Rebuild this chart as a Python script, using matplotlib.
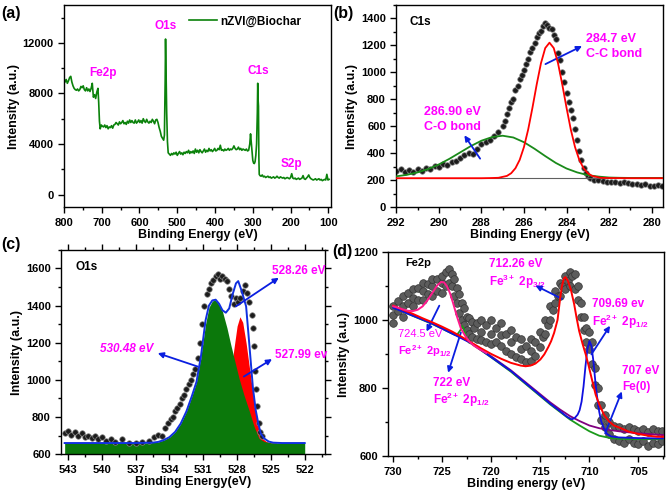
import matplotlib
matplotlib.use('Agg')
import matplotlib.pyplot as plt
from matplotlib.ticker import MultipleLocator

plt.rcParams['font.family'] = 'Liberation Sans'
plt.rcParams['font.weight'] = 'bold'
plt.rcParams['axes.labelweight'] = 'bold'
plt.rcParams['mathtext.fontset'] = 'custom'
plt.rcParams['mathtext.rm'] = 'Liberation Sans:bold'
plt.rcParams['mathtext.bf'] = 'Liberation Sans:bold'
plt.rcParams['mathtext.it'] = 'Liberation Sans:bold:italic'

# ---------------- (a) survey ----------------
survey_E = [800, 797, 794, 791, 788, 785, 782, 779, 776, 773, 770, 767, 764, 761, 758, 755, 752, 749, 746, 743,
            740, 737, 734, 731, 728, 725, 722, 719, 716, 713, 710, 708, 706, 704, 701, 698, 695, 692, 689, 686,
            683, 680, 677, 674, 671, 668, 665, 662, 659, 656, 653, 650, 647, 644, 641, 638, 635, 632, 629, 626,
            623, 620, 617, 614, 611, 608, 605, 602, 599, 596, 593, 590, 587, 584, 581, 578, 575, 572, 569, 566,
            563, 560, 557, 554, 551, 548, 545, 542, 539, 536, 534, 532, 531, 530, 528, 526, 524, 521, 518, 515,
            512, 509, 506, 503, 500, 497, 494, 491, 488, 485, 482, 479, 476, 473, 470, 467, 464, 461, 458, 455,
            452, 449, 446, 443, 440, 437, 434, 431, 428, 425, 422, 419, 416, 413, 410, 407, 404, 401, 398, 395,
            392, 389, 386, 383, 380, 377, 374, 371, 368, 365, 362, 359, 356, 353, 350, 347, 344, 341, 338, 335,
            332, 329, 326, 323, 320, 317, 314, 311, 308, 306, 304, 302, 300, 298, 296, 294, 292, 290, 288, 287,
            286, 285, 284, 283, 281, 278, 275, 272, 269, 266, 263, 260, 257, 254, 251, 248, 245, 242, 239, 236,
            233, 230, 227, 224, 221, 218, 215, 212, 209, 206, 203, 200, 197, 194, 191, 188, 185, 182, 179, 176,
            173, 170, 167, 164, 161, 158, 155, 152, 149, 146, 143, 140, 137, 134, 131, 128, 125, 122, 119, 116,
            113, 110, 107, 104, 101, 98]
survey_I = [9200, 8900, 9100, 8800, 9000, 9250, 9350, 8900, 8600, 8400, 8300, 8250, 8350, 8200, 8300, 8550, 8450, 8600, 8300, 8200,
            8450, 8200, 8350, 8150, 8400, 8800, 7700, 7900, 7600, 8100, 8400, 7300, 5800, 5200, 5500, 5400, 5350, 5500, 5300, 5450,
            5200, 5350, 5300, 5450, 5250, 5500, 5550, 5700, 5600, 5500, 5750, 5600, 5700, 5850, 5600, 5700, 5550, 5800, 5650, 5900,
            5700, 5850, 5700, 5650, 5900, 5650, 5750, 5900, 5700, 5850, 5650, 6000, 5800, 5700, 5950, 5750, 5650, 5800, 5700, 5950,
            5800, 5600, 5900, 5950, 5700, 5300, 5000, 4600, 4450, 4300, 4700, 9000, 12300, 10500, 6500, 4200, 3300, 3200, 3100, 3250,
            3150, 3300, 3200, 3350, 3100, 3250, 3400, 3200, 3300, 3150, 3350, 3250, 3400, 3300, 3500, 3250, 3400, 3300, 3450, 3250,
            3600, 3350, 3500, 3300, 3550, 3400, 3300, 3450, 3600, 3350, 3500, 3400, 3650, 3450, 3550, 3400, 3500, 3650, 3450, 3500,
            3650, 3550, 3900, 3500, 3550, 3450, 3600, 3500, 3550, 3650, 3500, 3600, 3550, 3650, 3850, 3650, 3550, 3600, 3750, 3550,
            3650, 3500, 3600, 3550, 3500, 3600, 3450, 3500, 4000, 4800, 4100, 3300, 2700, 2500, 2450, 2600, 3100, 4000, 6500, 8800,
            7500, 7000, 3000, 1600, 1500, 1450, 1550, 1400, 1450, 1350, 1400, 1450, 1350, 1400, 1300, 1350, 1400, 1300, 1350, 1450,
            1350, 1300, 1400, 1350, 1300, 1350, 1250, 1300, 1350, 1300, 1250, 1350, 1650, 1300, 1250, 1300, 1200, 1250, 1300, 1200,
            1250, 1300, 1500, 1250, 1200, 1300, 1400, 1550, 1350, 1250, 1200, 1150, 1200, 1250, 1150, 1200, 1250, 1150, 1200, 1100,
            1150, 1200, 1150, 1600, 1150, 1200]

# ---------------- (b) C1s ----------------
c1s_E = [292.0, 291.8, 291.6, 291.4, 291.2, 291.0, 290.8, 290.6, 290.4, 290.2, 290.0, 289.8, 289.6, 289.4, 289.2,
         289.0, 288.8, 288.6, 288.4, 288.2, 288.0, 287.8, 287.6, 287.4, 287.2, 287.0, 286.9, 286.8, 286.7, 286.6,
         286.5, 286.4, 286.3, 286.2, 286.1, 286.0, 285.9, 285.8, 285.7, 285.6, 285.5, 285.4, 285.3, 285.2, 285.1,
         285.0, 284.9, 284.8, 284.7, 284.6, 284.5, 284.4, 284.3, 284.2, 284.1, 284.0, 283.9, 283.8, 283.7, 283.6,
         283.5, 283.4, 283.3, 283.2, 283.1, 283.0, 282.9, 282.7, 282.5, 282.3, 282.1, 281.9, 281.7, 281.5, 281.3,
         281.1, 280.9, 280.7, 280.5, 280.3, 280.1, 279.9, 279.7, 279.5]
c1s_I = [270, 285, 262, 275, 258, 280, 270, 290, 282, 305, 300, 318, 310, 335, 345,
         362, 385, 400, 392, 430, 470, 480, 500, 530, 560, 600, 640, 690, 735, 780,
         800, 870, 900, 950, 980, 1020, 1060, 1100, 1150, 1180, 1220, 1260, 1290, 1310, 1340,
         1365, 1350, 1330, 1320, 1280, 1250, 1140, 1090, 1000, 930, 850, 780, 720, 660, 580,
         500, 420, 350, 290, 250, 230, 215, 205, 200, 195, 190, 185, 190, 180, 185,
         178, 175, 170, 165, 175, 160, 158, 165, 160]
cc_E = [292, 289, 288, 287.6, 287.2, 286.8, 286.6, 286.4, 286.2, 286.0, 285.8, 285.6, 285.4, 285.2, 285.0, 284.8,
        284.6, 284.4, 284.2, 284.0, 283.8, 283.6, 283.4, 283.2, 283.0, 282.8, 282.4, 282.0, 281.0, 279.5]
cc_I = [215, 215, 215, 216, 218, 232, 252, 289, 351, 446, 577, 738, 911, 1068, 1180, 1220,
        1180, 1068, 911, 738, 577, 446, 351, 289, 252, 232, 218, 216, 215, 215]
co_E = [292, 291.5, 291, 290.5, 290, 289.5, 289, 288.5, 288, 287.5, 287, 286.5, 286, 285.5, 285, 284.5,
        284, 283.5, 283, 282.5, 282, 281.5, 281, 280, 279.5]
co_I = [229, 240, 258, 283, 317, 359, 406, 453, 493, 520, 530, 517, 482, 433, 379, 328,
        287, 258, 238, 227, 220, 218, 217, 217, 217]
c1s_base = [215, 215]
c1s_base_E = [292, 279.5]

# ---------------- (c) O1s ----------------
o1s_E = [543.3, 543.0, 542.7, 542.4, 542.1, 541.8, 541.5, 541.2, 540.9, 540.6, 540.3, 540.0, 539.6, 539.2, 538.8,
         538.2, 537.6, 537.0, 536.4, 535.8, 535.4, 535.0, 534.7, 534.4, 534.1, 533.9, 533.7, 533.5, 533.3, 533.1,
         532.9, 532.7, 532.5, 532.3, 532.1, 531.9, 531.7, 531.5, 531.3, 531.1, 530.9, 530.7, 530.5, 530.3, 530.1,
         529.9, 529.7, 529.5, 529.3, 529.1, 528.9, 528.7, 528.5, 528.3, 528.1, 527.9, 527.7, 527.5, 527.3, 527.1,
         526.9, 526.7, 526.6, 526.5, 526.4, 526.3, 526.2, 526.1, 525.95, 525.8]
o1s_I = [715, 725, 705, 720, 700, 712, 690, 700, 685, 700, 680, 690, 670, 680, 665,
         680, 662, 660, 668, 670, 690, 705, 700, 740, 770, 790, 800, 830, 850, 870,
         900, 920, 950, 980, 1000, 1030, 1060, 1120, 1200, 1300, 1400, 1460, 1490, 1520, 1540,
         1560, 1570, 1545, 1560, 1545, 1530, 1490, 1450, 1410, 1440, 1420, 1440, 1480, 1510, 1470,
         1420, 1350, 1280, 1180, 1050, 950, 860, 770, 720, 700]
o_green_E = [543.3, 536, 535, 534.5, 534, 533.5, 533, 532.5, 532, 531.6, 531.2, 530.8, 530.5, 530.2, 529.95,
             529.6, 529.3, 528.9, 528.56, 528.2, 527.83, 527.4, 526.9, 526.5, 526.06, 525.6, 525, 524, 522]
o_green_I = [660, 660, 666, 676, 692, 720, 765, 830, 915, 990, 1130, 1300, 1390, 1425, 1430,
             1405, 1369, 1280, 1189, 1100, 1009, 920, 829, 750, 685, 668, 661, 660, 660]
o_red_E = [531, 530, 529.5, 529.2, 528.9, 528.6, 528.3, 528.0, 527.75, 527.5, 527.2, 526.8, 526.4, 526.06,
           525.76, 525.4, 525, 524.5]
o_red_I = [660, 665, 690, 760, 870, 1010, 1160, 1290, 1340, 1310, 1198, 1018, 838, 730,
           685, 668, 661, 660]
o_env_E = [543.3, 537, 535.5, 535, 534.5, 534, 533.5, 533, 532.5, 532, 531.6, 531.2, 530.8, 530.5, 530.2,
           529.9, 529.6, 529.3, 529.0, 528.7, 528.4, 528.1, 527.9, 527.6, 527.2, 526.9, 526.6, 526.35, 526.1,
           525.9, 525.6, 525.2, 524.8, 524, 522]
o_env_I = [660, 660, 662, 666, 676, 692, 720, 765, 830, 915, 990, 1130, 1320, 1400, 1428,
           1432, 1410, 1375, 1362, 1385, 1460, 1520, 1532, 1480, 1396, 1180, 960, 838, 760,
           712, 685, 668, 662, 660, 660]

# ---------------- (d) Fe2p ----------------
fe_E = [730, 730, 730, 729.5, 729.5, 729, 729, 729, 728.5, 728.5, 728, 728, 728, 727.5, 727.5, 727, 727, 727,
        726.5, 726.5, 726, 726, 726, 725.5, 725.5, 725, 725, 725, 724.6, 724.6, 724.3, 724.3, 724.0, 724.0,
        723.8, 723.8, 723.5, 723.5, 723.3, 723.3, 723.0, 723.0, 722.8, 722.8, 722.5, 722.5, 722.3, 722.3,
        722.0, 722.0, 721.8, 721.5, 721.5, 721, 721, 721, 720.5, 720.5, 720, 720, 720, 719.5, 719.5,
        719, 719, 719, 718.5, 718.5, 718, 718, 718, 717.5, 717.5, 717, 717, 717, 716.5, 716.5, 716, 716, 716,
        715.5, 715.5, 715, 715, 714.7, 714.5, 714.5, 714.2, 714, 714, 713.7, 713.5, 713.5, 713.2, 713, 713,
        712.8, 712.5, 712.5, 712.2, 712, 712, 711.8, 711.5, 711.5, 711.2, 711.2, 710.9, 710.9, 710.6, 710.6,
        710.3, 710.3, 710.0, 710.0, 709.7, 709.7, 709.4, 709.4, 709.1, 709.1, 708.8, 708.8, 708.4, 708.4,
        708, 708, 707.5, 707.5, 707, 707, 706.5, 706.5, 706, 706, 705.5, 705.5, 705, 705, 704.5, 704.5,
        704, 704, 703.5, 703.5, 703, 703, 702.6, 702.6]
fe_I = [990, 1015, 1040, 1025, 1055, 1010, 1040, 1070, 1050, 1080, 1040, 1065, 1090, 1060, 1095, 1060, 1085, 1110,
        1075, 1105, 1070, 1100, 1120, 1085, 1120, 1080, 1110, 1130, 1100, 1140, 1110, 1150, 1100, 1135,
        1070, 1120, 1050, 1095, 1020, 1075, 1000, 1050, 985, 1035, 970, 1010, 960, 1005,
        950, 995, 975, 945, 990, 940, 965, 1000, 935, 985, 930, 960, 1000, 935, 975,
        925, 955, 990, 910, 960, 900, 935, 970, 890, 950, 885, 915, 945, 878, 925, 880, 910, 945,
        895, 935, 920, 965, 950, 960, 1000, 985, 1000, 1040, 1030, 1050, 1085, 1070, 1070, 1110,
        1100, 1090, 1130, 1115, 1100, 1140, 1130, 1090, 1135, 1060, 1100, 1010, 1050, 970, 1010,
        935, 975, 915, 965, 870, 935, 810, 860, 750, 800, 705, 750, 685, 720,
        665, 700, 650, 690, 645, 685, 640, 680, 650, 685, 640, 680, 635, 675, 645, 680,
        630, 670, 640, 680, 635, 675, 645, 675]
bg_green_E = [730, 728, 726, 724.5, 724, 723.7, 723.4, 723.15, 722.95, 722.75, 722.55, 722.3, 722, 720, 718,
              716, 714, 713, 712, 711, 710, 709, 708, 707, 705, 702.5]
bg_green_I = [1037, 1012, 988, 967, 960, 956, 960, 970, 982, 970, 948, 934, 930, 890, 848,
              800, 752, 730, 708, 690, 673, 660, 654, 651, 650, 650]
bg_purple_E = [730, 728, 726, 724, 722, 720, 718, 716, 714, 713, 712, 711, 710, 709, 708, 707, 706, 705, 704, 702.5]
bg_purple_I = [1039, 1014, 990, 962, 932, 893, 852, 805, 758, 737, 718, 703, 690, 682, 677, 673, 670, 667, 665, 662]
fe0_E = [730, 726, 722, 718, 716, 714, 713, 712.3, 711.8, 711.5, 711.2, 711.0, 710.8, 710.6, 710.4, 710.2,
         710.0, 709.8, 709.6, 709.4, 709.2, 709.0, 708.8, 708.5, 708.2, 707.8, 707, 705, 702.5]
fe0_I = [1036, 989, 931, 850, 802, 754, 732, 716, 708, 712, 722, 735, 760, 805, 865, 915,
         938, 925, 880, 820, 770, 730, 702, 680, 665, 658, 655, 653, 652]
fe3_E = [730, 729, 728, 727, 726, 725, 724, 723, 722, 721, 720, 719, 718, 717, 716.5, 716, 715.5, 715,
         714.6, 714.2, 713.9, 713.6, 713.25, 713.0, 712.8, 712.6, 712.45, 712.2, 711.9, 711.56, 711.3,
         711.05, 710.7, 710.38, 710.1, 709.87, 709.6, 709.36, 709.0, 708.5, 708, 707.5, 706.8, 706, 705,
         704, 703.1, 702.5]
fe3_I = [1042, 1030, 1018, 1005, 993, 980, 966, 950, 933, 916, 900, 886, 874, 866, 864, 866, 872, 884,
         899, 920, 938, 962, 1000, 1060, 1100, 1122, 1126, 1115, 1090, 1047, 1005,
         968, 930, 899, 868, 840, 808, 780, 752, 721, 702, 690, 682, 672, 665,
         660, 657, 657]
fe2_E = [730, 729.5, 729, 728.5, 728, 727.5, 727, 726.5, 726, 725.5, 725.1, 724.8, 724.5, 724.2, 723.9,
         723.5, 723.1, 722.7, 722.3, 721.8, 721.2, 720.5]
fe2_I = [1040, 1036, 1031, 1027, 1026, 1030, 1040, 1058, 1080, 1102, 1112, 1110, 1098, 1078, 1050,
         1010, 975, 955, 938, 925, 914, 903]

fig = plt.figure(figsize=(6.66, 4.91), dpi=100)
axa = fig.add_axes([0.096, 0.578, 0.401, 0.412])
axb = fig.add_axes([0.595, 0.578, 0.401, 0.412])
axc = fig.add_axes([0.092, 0.075, 0.396, 0.416])
axd = fig.add_axes([0.583, 0.071, 0.414, 0.416])

mag = '#ff00ff'
arrow_kw = dict(arrowstyle='-|>', color='#0a1ee0', lw=1.3, mutation_scale=8, shrinkA=0, shrinkB=0)


def style(ax, mirror=False):
    for s in ax.spines.values():
        s.set_linewidth(1.0)
    ax.tick_params(which='both', direction='out', labelsize=8, width=1.0,
                   top=mirror, right=mirror)
    ax.tick_params(which='major', length=4)
    ax.tick_params(which='minor', length=2.5)


def arrow(ax, tail, head):
    ax.annotate('', xy=head, xytext=tail, arrowprops=arrow_kw)


# (a)
axa.plot(survey_E, survey_I, color='#0b820b', lw=1.2, label='nZVI@Biochar')
axa.set_xlim(800, 93)
axa.set_ylim(-1000, 15000)
axa.xaxis.set_major_locator(MultipleLocator(100))
axa.xaxis.set_minor_locator(MultipleLocator(50))
axa.yaxis.set_major_locator(MultipleLocator(4000))
axa.yaxis.set_minor_locator(MultipleLocator(2000))
axa.set_xlabel('Binding Energy (eV)', fontsize=9, labelpad=1)
axa.set_ylabel('Intensity (a.u.)', fontsize=9, labelpad=2)
axa.legend(loc='upper right', bbox_to_anchor=(0.93, 1.0), frameon=False, fontsize=8.5,
           handlelength=2.4, handletextpad=0.3)
for txt, x, y in [('Fe2p', 697, 9600), ('O1s', 531, 13300), ('C1s', 286, 9800), ('S2p', 198, 2450)]:
    axa.text(x, y, txt, color=mag, fontsize=8.5, ha='center', va='center')
style(axa)

# (b)
axb.plot(c1s_E, c1s_I, 'o', ms=4, mfc='#1c1c1c', mec='#8a8a8a', mew=0.5, zorder=2)
axb.plot(c1s_base_E, c1s_base, color='#606060', lw=0.8, zorder=3)
axb.plot(co_E, co_I, color='#1a8a1a', lw=1.3, zorder=3)
axb.plot(cc_E, cc_I, color='#ff0000', lw=1.3, zorder=4)
axb.set_xlim(292, 279.45)
axb.set_ylim(0, 1500)
axb.xaxis.set_major_locator(MultipleLocator(2))
axb.xaxis.set_minor_locator(MultipleLocator(1))
axb.yaxis.set_major_locator(MultipleLocator(200))
axb.yaxis.set_minor_locator(MultipleLocator(100))
axb.set_xlabel('Binding Energy (eV)', fontsize=9, labelpad=1)
axb.set_ylabel('Intensity (a.u.)', fontsize=9, labelpad=2)
axb.text(291.4, 1373, 'C1s', fontsize=8.5, va='center')
axb.text(283.1, 1246, '284.7 eV', color=mag, fontsize=9, va='center')
axb.text(283.1, 1135, 'C-C bond', color=mag, fontsize=9, va='center')
axb.text(290.7, 703, '286.90 eV', color=mag, fontsize=9, va='center')
axb.text(290.7, 592, 'C-O bond', color=mag, fontsize=9, va='center')
arrow(axb, (284.99, 1061), (283.27, 1195))
arrow(axb, (288.06, 360), (288.8, 533))
style(axb)

# (c)
axc.fill_between(o_red_E, 600, o_red_I, color='#ff0000', lw=0, zorder=1)
axc.fill_between(o_green_E, 600, o_green_I, color='#0b780b', lw=0, zorder=1.5)
axc.plot(o1s_E, o1s_I, 'o', ms=4, mfc='#1c1c1c', mec='#8a8a8a', mew=0.5, zorder=2)
axc.plot(o_env_E, o_env_I, color='#1030e0', lw=1.4, zorder=3)
axc.set_xlim(543.6, 520.2)
axc.set_ylim(600, 1700)
axc.xaxis.set_major_locator(MultipleLocator(3))
axc.xaxis.set_minor_locator(MultipleLocator(1.5))
axc.yaxis.set_major_locator(MultipleLocator(200))
axc.yaxis.set_minor_locator(MultipleLocator(100))
axc.set_xlabel('Binding Energy(eV)', fontsize=9, labelpad=1)
axc.set_ylabel('Intensity (a.u.)', fontsize=9, labelpad=2)
axc.text(542.3, 1608, 'O1s', fontsize=8.5, va='center')
axc.text(524.9, 1584, '528.26 eV', color=mag, fontsize=8.5, va='center')
axc.text(524.67, 1135, '527.99 ev', color=mag, fontsize=8.5, va='center')
axc.text(535.4, 1165, '530.48 eV', color=mag, fontsize=8.5, va='center', ha='right', style='italic')
arrow(axc, (528.1, 1396), (524.3, 1550))
arrow(axc, (527.4, 1018), (524.9, 1112))
arrow(axc, (531.5, 1072), (535.04, 1144))
style(axc, mirror=True)

# (d)
axd.plot(fe_E, fe_I, 'o', ms=5.5, mfc='#5c5c5c', mec='#333333', mew=0.5, zorder=2)
axd.plot(bg_purple_E, bg_purple_I, color='#800080', lw=1.3, zorder=3)
axd.plot(bg_green_E, bg_green_I, color='#1a9a1a', lw=1.3, zorder=3)
axd.plot(fe0_E, fe0_I, color='#1010e0', lw=1.3, zorder=3)
axd.plot(fe3_E, fe3_I, color='#ff0000', lw=1.4, zorder=4)
axd.plot(fe2_E, fe2_I, color='#ff1a8c', lw=1.4, zorder=4)
axd.set_xlim(730.5, 702.4)
axd.set_ylim(600, 1200)
axd.xaxis.set_major_locator(MultipleLocator(5))
axd.xaxis.set_minor_locator(MultipleLocator(2.5))
axd.yaxis.set_major_locator(MultipleLocator(200))
axd.yaxis.set_minor_locator(MultipleLocator(100))
axd.set_xlabel('Binding energy (eV)', fontsize=9, labelpad=1)
axd.set_ylabel('Intensity (a.u.)', fontsize=9, labelpad=2)
axd.text(728.8, 1166, 'Fe2p', fontsize=8, va='center')
axd.text(720.2, 1165, '712.26 eV', color=mag, fontsize=8.5, va='center')
axd.text(720.2, 1112, r'Fe$^{3+}$ 2p$_{3/2}$', color=mag, fontsize=8.5, va='center')
axd.text(709.7, 1047, '709.69 ev', color=mag, fontsize=8.5, va='center')
axd.text(709.7, 994, r'Fe$^{2+}$ 2p$_{1/2}$', color=mag, fontsize=8.5, va='center')
axd.text(706.7, 849, '707 eV', color=mag, fontsize=8.5, va='center')
axd.text(706.7, 804, 'Fe(0)', color=mag, fontsize=8.5, va='center')
axd.text(729.5, 958, '724.5 eV', color=mag, fontsize=8, va='center', fontweight='normal')
axd.text(729.5, 908, r'Fe$^{2+}$ 2p$_{1/2}$', color=mag, fontsize=8, va='center')
axd.text(725.9, 816, '722 eV', color=mag, fontsize=8.5, va='center')
axd.text(725.9, 766, r'Fe$^{2+}$ 2p$_{1/2}$', color=mag, fontsize=8.5, va='center')
arrow(axd, (712.8, 1062), (715.5, 1101))
arrow(axd, (709.8, 899), (707.9, 983))
arrow(axd, (708.4, 667), (706.7, 790))
arrow(axd, (725.3, 1042), (726.6, 966))
arrow(axd, (723.1, 963), (724.4, 845))
style(axd)

for lab, x, y in [('(a)', 0.002, 0.972), ('(b)', 0.501, 0.972), ('(c)', 0.002, 0.503), ('(d)', 0.499, 0.487)]:
    fig.text(x, y, lab, fontsize=11.5, va='center', ha='left')

fig.savefig('out.png', dpi=100)
